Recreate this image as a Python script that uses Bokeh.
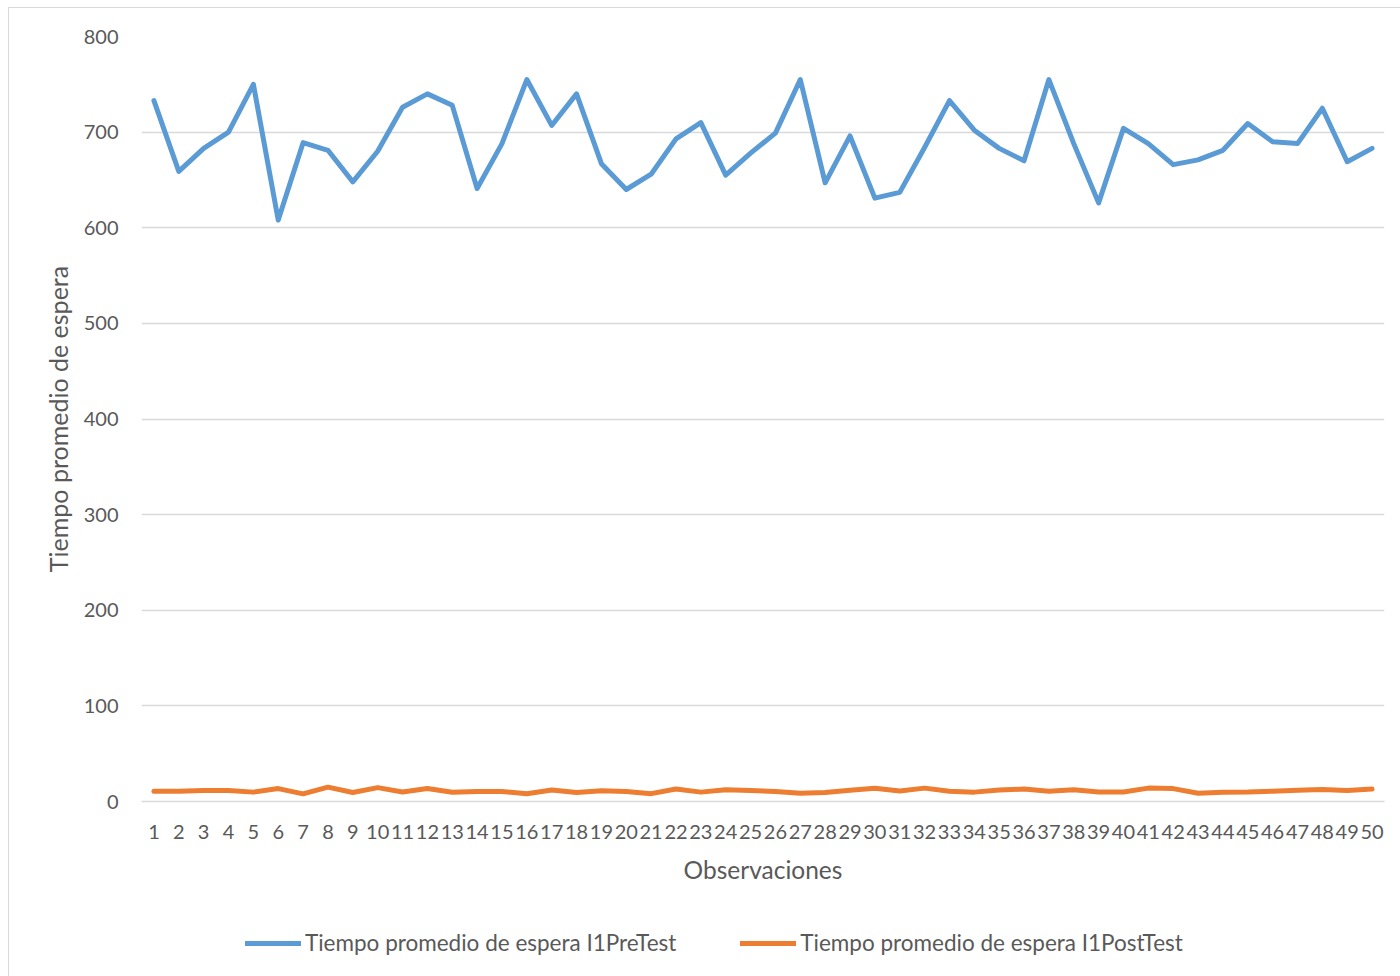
from bokeh.plotting import figure
from bokeh.layouts import column
from bokeh.models import Range1d, FactorRange, FixedTicker, Legend, LegendItem, ColumnDataSource
from bokeh.embed import file_html
from bokeh.resources import INLINE

observaciones = [str(i) for i in range(1, 51)]
pretest = [733, 659, 683, 700, 750, 608, 689, 681, 648, 680,
           726, 740, 728, 641, 688, 755, 707, 740, 667, 640,
           656, 693, 710, 655, 678, 699, 755, 647, 696, 631,
           637, 684, 733, 702, 683, 670, 755, 688, 626, 704,
           688, 666, 671, 681, 709, 690, 688, 725, 669, 683]
posttest = [10.8, 10.8, 11.5, 11.5, 9.8, 13.5, 8, 15, 9.4, 14.5,
            10, 13.5, 9.6, 10.5, 10.5, 8.2, 12, 9.4, 11.2, 10.5,
            8.2, 13, 9.8, 12.3, 11.5, 10.5, 8.7, 9.4, 11.8, 13.8,
            11, 14, 10.8, 9.8, 12, 13, 10.8, 12.3, 10, 10,
            14, 13.5, 8.7, 9.8, 10, 10.8, 11.8, 12.5, 11.5, 13]
yticks = [0, 100, 200, 300, 400, 500, 600, 700, 800]
labels = ["Tiempo promedio de espera I1PreTest",
          "Tiempo promedio de espera I1PostTest"]

FONT = "Lato"
TXT = "#595959"
GRID = "#d9d9d9"
BLUE = "#5B9BD5"
ORANGE = "#ED7D31"

src = ColumnDataSource(dict(x=observaciones, pre=pretest, post=posttest))

p = figure(width=1400, height=900, title=None,
           x_range=FactorRange(*observaciones), y_range=Range1d(0, 800),
           output_backend="svg", toolbar_location=None,
           min_border_left=141, min_border_right=16,
           min_border_top=36, min_border_bottom=99)
p.outline_line_color = None
p.background_fill_color = "white"
p.border_fill_color = "white"

p.line("x", "pre", source=src, line_color=BLUE, line_width=5,
       line_join="round", line_cap="round")
p.line("x", "post", source=src, line_color=ORANGE, line_width=5,
       line_join="round", line_cap="round")

p.xgrid.grid_line_color = None
p.ygrid.grid_line_color = GRID
p.ygrid.grid_line_width = 1.5
p.yaxis.ticker = FixedTicker(ticks=yticks)

for ax in (p.xaxis[0], p.yaxis[0]):
    ax.major_tick_line_color = None
    ax.minor_tick_line_color = None
    ax.major_tick_out = 0
    ax.major_tick_in = 0
    ax.major_label_text_font = FONT
    ax.major_label_text_font_size = "20px"
    ax.major_label_text_color = TXT
    ax.axis_label_text_font = FONT
    ax.axis_label_text_font_style = "normal"
    ax.axis_label_text_color = TXT

p.yaxis.axis_line_color = None
p.xaxis.axis_line_color = GRID
p.xaxis.axis_line_width = 1.5
p.xaxis.major_label_standoff = 23
p.xaxis.axis_label = "Observaciones"
p.xaxis.axis_label_text_font_size = "24.5px"
p.xaxis.axis_label_standoff = 13
p.yaxis.major_label_standoff = 23
p.yaxis.axis_label = "Tiempo promedio de espera"
p.yaxis.axis_label_text_font_size = "25px"
p.yaxis.axis_label_standoff = 8

# Legend strip below the chart
p2 = figure(width=1400, height=76, title=None,
            x_range=FactorRange(*observaciones), y_range=Range1d(-2000, -1900),
            x_axis_type=None, y_axis_type=None,
            output_backend="svg", toolbar_location=None,
            min_border=0)
p2.outline_line_color = None
p2.xgrid.grid_line_color = None
p2.ygrid.grid_line_color = None
p2.background_fill_color = "white"
p2.border_fill_color = "white"
l1 = p2.line("x", "pre", source=src, line_color=BLUE, line_width=5, line_cap="round")
l2 = p2.line("x", "post", source=src, line_color=ORANGE, line_width=5, line_cap="round")

legend = Legend(items=[
    LegendItem(label=labels[0], renderers=[l1]),
    LegendItem(label=labels[1], renderers=[l2]),
], orientation="horizontal", location=(104, 20))
legend.glyph_width = 56
legend.glyph_height = 20
legend.label_standoff = 4
legend.spacing = 64
legend.padding = 0
legend.margin = 0
legend.border_line_color = None
legend.background_fill_alpha = 0
legend.label_text_font = FONT
legend.label_text_font_size = "22.5px"
legend.label_text_color = TXT
p2.add_layout(legend, "center")

# Thin chart-area frame (left and top edges) like the original
frame_css = (":host { position: relative; } "
             ":host::after { content: ''; position: absolute; left: 8px; top: 7px; "
             "right: 0; bottom: 0; border-left: 1.5px solid #d9d9d9; "
             "border-top: 1.5px solid #d9d9d9; pointer-events: none; z-index: 10; }")
layout = column(p, p2, spacing=0, stylesheets=[frame_css])

open("out.html", "w").write(file_html(layout, INLINE))
